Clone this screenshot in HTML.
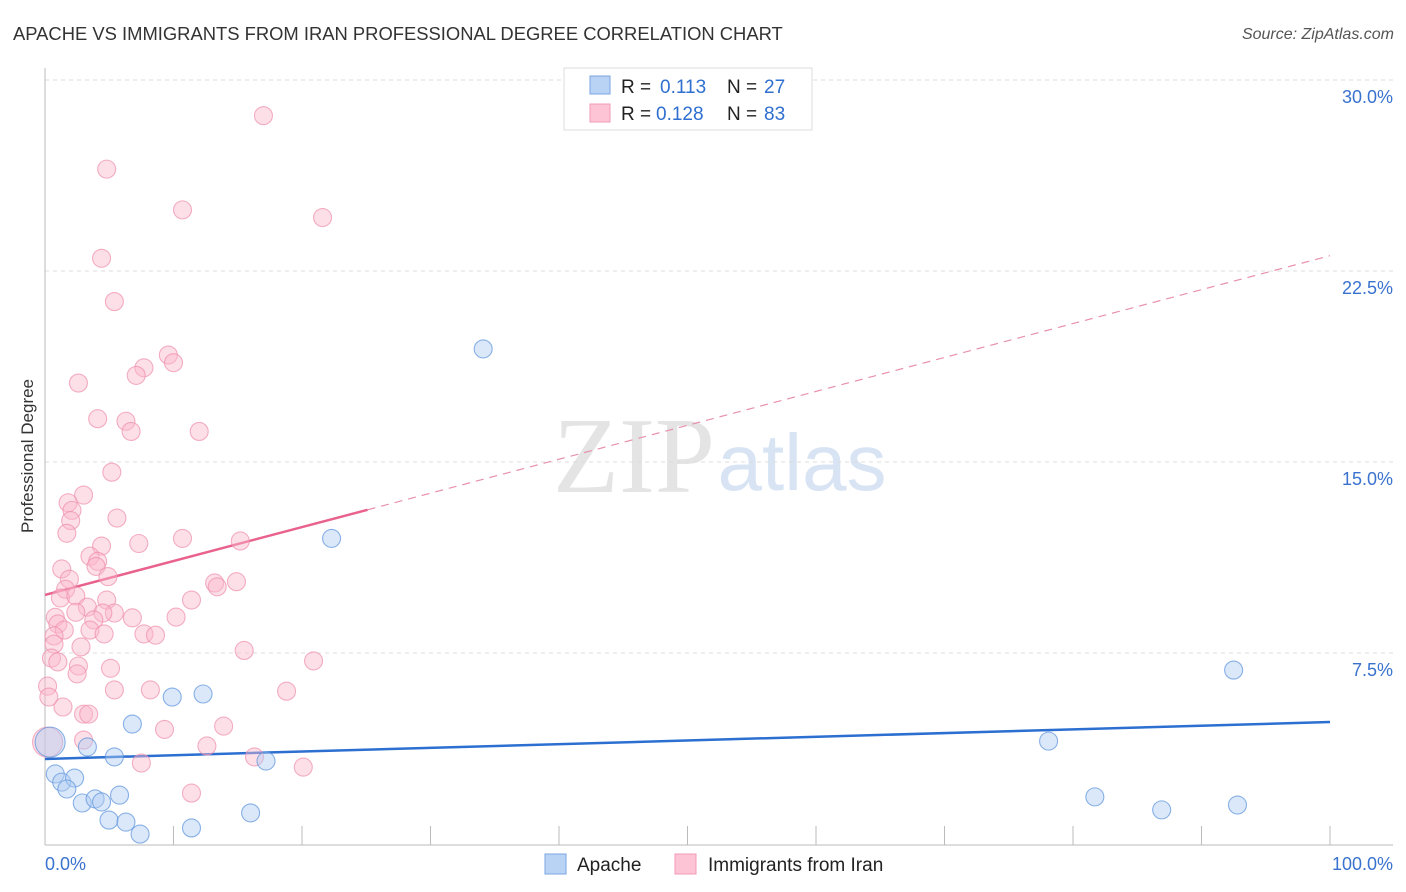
<!DOCTYPE html>
<html><head><meta charset="utf-8">
<style>
body{margin:0;background:#fff;}
svg{display:block;font-family:"Liberation Sans",sans-serif;}
</style></head>
<body>
<svg id="chart" width="1406" height="892" viewBox="0 0 1406 892">
<text x="13" y="40" font-size="18.4" fill="#333">APACHE VS IMMIGRANTS FROM IRAN PROFESSIONAL DEGREE CORRELATION CHART</text>
<text x="1394" y="39" font-size="16" fill="#555" font-style="italic" text-anchor="end">Source: ZipAtlas.com</text>
<text x="33" y="456" font-size="17" fill="#333" text-anchor="middle" transform="rotate(-90 33 456)">Professional Degree</text>
<g>
<text x="634" y="492" font-size="108" fill="#e4e4e4" font-family="Liberation Serif,serif" text-anchor="middle">ZIP</text>
<text x="802" y="490" font-size="80" fill="#d8e4f4" text-anchor="middle">atlas</text>
</g>
<g id="grid"></g>
<g id="axes"></g>
<g id="lines"></g>
<g id="points"></g>
<g>
<rect x="564" y="68" width="248" height="62" fill="#fff" stroke="#ddd"/>
<rect x="590" y="76" width="20" height="18" fill="#b9d3f5" stroke="#7aa6e0"/>
<rect x="590" y="104" width="20" height="18" fill="#fcc4d4" stroke="#f09ab4"/>
<text x="621" y="93" font-size="19" fill="#222">R = </text><text x="660" y="93" font-size="19" fill="#2f6fd0">0.113</text>
<text x="727" y="93" font-size="19" fill="#222">N = </text><text x="764" y="93" font-size="19" fill="#2f6fd0">27</text>
<text x="621" y="120" font-size="19" fill="#222">R = </text><text x="656" y="120" font-size="19" fill="#2f6fd0">0.128</text>
<text x="727" y="120" font-size="19" fill="#222">N = </text><text x="764" y="120" font-size="19" fill="#2f6fd0">83</text>
</g>
<g>
<rect x="545" y="854" width="21" height="20" fill="#b9d3f5" stroke="#7aa6e0"/>
<text x="577" y="871" font-size="19" fill="#222">Apache</text>
<rect x="675" y="854" width="21" height="20" fill="#fcc4d4" stroke="#f09ab4"/>
<text x="708" y="871" font-size="19" fill="#222">Immigrants from Iran</text>
</g>
</svg>
<script>
const yTicks=[7.5,15,22.5,30];
const yTickLabels=["7.5%","15.0%","22.5%","30.0%"];
const xTickLabels=["0.0%","100.0%"];
const apacheX=[0.4,34.1,22.3,92.5,78.1,81.7,86.9,92.8,9.9,12.3,6.8,3.3,5.4,17.2,0.8,1.3,2.3,1.7,2.9,3.9,4.4,5.8,4.98,6.3,7.4,11.4,16.0];
const apacheY=[4.0,19.44,12.0,6.83,4.04,1.85,1.34,1.53,5.77,5.89,4.71,3.81,3.42,3.26,2.75,2.43,2.59,2.16,1.61,1.77,1.65,1.92,0.94,0.86,0.39,0.63,1.22];
const iranX=[17.0,4.8,10.7,21.6,4.4,5.4,9.6,10.0,7.7,7.1,2.6,4.1,6.3,6.7,12.0,5.2,3.0,1.8,2.1,2.0,5.6,1.7,10.7,15.2,7.3,4.4,3.5,4.1,3.97,1.3,4.9,1.9,14.9,13.2,13.4,1.6,1.2,2.4,11.4,4.8,3.3,2.4,5.4,4.5,6.8,10.2,0.8,3.8,1.0,3.5,1.5,4.6,0.7,7.7,8.6,2.8,0.7,15.5,0.5,1.0,20.9,2.6,5.1,2.5,0.2,5.4,8.2,0.3,18.8,1.4,3.0,3.4,9.3,13.9,3.0,0.2,12.6,7.5,16.3,20.1,11.4];
const iranY=[28.6,26.5,24.9,24.6,23.0,21.3,19.2,18.9,18.7,18.4,18.1,16.7,16.6,16.2,16.2,14.6,13.7,13.4,13.1,12.7,12.8,12.2,12.0,11.9,11.8,11.7,11.3,11.1,10.9,10.8,10.5,10.4,10.3,10.25,10.1,10.0,9.66,9.74,9.58,9.58,9.3,9.1,9.07,9.07,8.88,8.91,8.9,8.8,8.64,8.4,8.4,8.25,8.17,8.25,8.2,7.74,7.85,7.6,7.3,7.15,7.19,6.99,6.9,6.68,6.2,6.05,6.05,5.77,6.0,5.38,5.1,5.1,4.5,4.63,4.08,4.0,3.85,3.18,3.42,3.02,2.0];
const trendApache=[3.34,4.79];
const trendIran=[9.78,23.1];
const iranSolidEnd=25.1;

const X0=45,X1=1330,Y0=844,PXPER=191/7.5;
const sx=v=>X0+(X1-X0)*v/100;
const sy=v=>Y0-v*PXPER;
const NS="http://www.w3.org/2000/svg";
function mk(parent,tag,attrs){const e=document.createElementNS(NS,tag);for(const k in attrs)e.setAttribute(k,attrs[k]);document.getElementById(parent).appendChild(e);return e;}

yTicks.forEach((t,i)=>{
  const g=mk('grid','line',{x1:X0,x2:1393,y1:sy(t),y2:sy(t),stroke:'#ddd','stroke-dasharray':'4,4'});
  
  
  const l=mk('axes','text',{x:1393,y:sy(t)+23,'font-size':18,fill:'#3a72cf','text-anchor':'end'});
  l.textContent=yTickLabels[i];
  
  
});
let a=mk('axes','line',{x1:X0,x2:X0,y1:68,y2:845,stroke:'#bbb'});


a=mk('axes','line',{x1:X0,x2:1393,y1:845,y2:845,stroke:'#bbb'});


for(let i=1;i<=10;i++){
  const t=mk('axes','line',{x1:sx(i*10),x2:sx(i*10),y1:826,y2:845,stroke:'#bbb'});
  
  
}
let xl=mk('axes','text',{x:45,y:870,'font-size':18,fill:'#3a72cf'});
xl.textContent=xTickLabels[0];


xl=mk('axes','text',{x:1393,y:870,'font-size':18,fill:'#3a72cf','text-anchor':'end'});
xl.textContent=xTickLabels[1];



function pts(xs,ys,fill,stroke,name){
  xs.forEach((x,i)=>{
    const big=(i===0&&name==='apache')||(name==='iran'&&i===75);
    const c=mk('points','circle',{cx:sx(x),cy:sy(ys[i]),r:big?15:9,fill:fill,'fill-opacity':0.45,stroke:stroke,'stroke-width':1.1,'stroke-opacity':0.7});
    
    
  });
}
pts(iranX,iranY,'#fbb8cb','#ee8fac','iran');
pts(apacheX,apacheY,'#b0cdf2','#5b93dc','apache');

const iv=x=>trendIran[0]+(trendIran[1]-trendIran[0])*x/100;
let ln=mk('lines','line',{x1:sx(iranSolidEnd),y1:sy(iv(iranSolidEnd)),x2:sx(100),y2:sy(trendIran[1]),stroke:'#e891ab','stroke-width':1.2,'stroke-dasharray':'8,6'});


ln=mk('lines','line',{x1:sx(0),y1:sy(trendIran[0]),x2:sx(iranSolidEnd),y2:sy(iv(iranSolidEnd)),stroke:'#e8628d','stroke-width':2.5});


ln=mk('lines','line',{x1:sx(0),y1:sy(trendApache[0]),x2:sx(100),y2:sy(trendApache[1]),stroke:'#2c6fd1','stroke-width':2.5});


</script>
</body></html>
